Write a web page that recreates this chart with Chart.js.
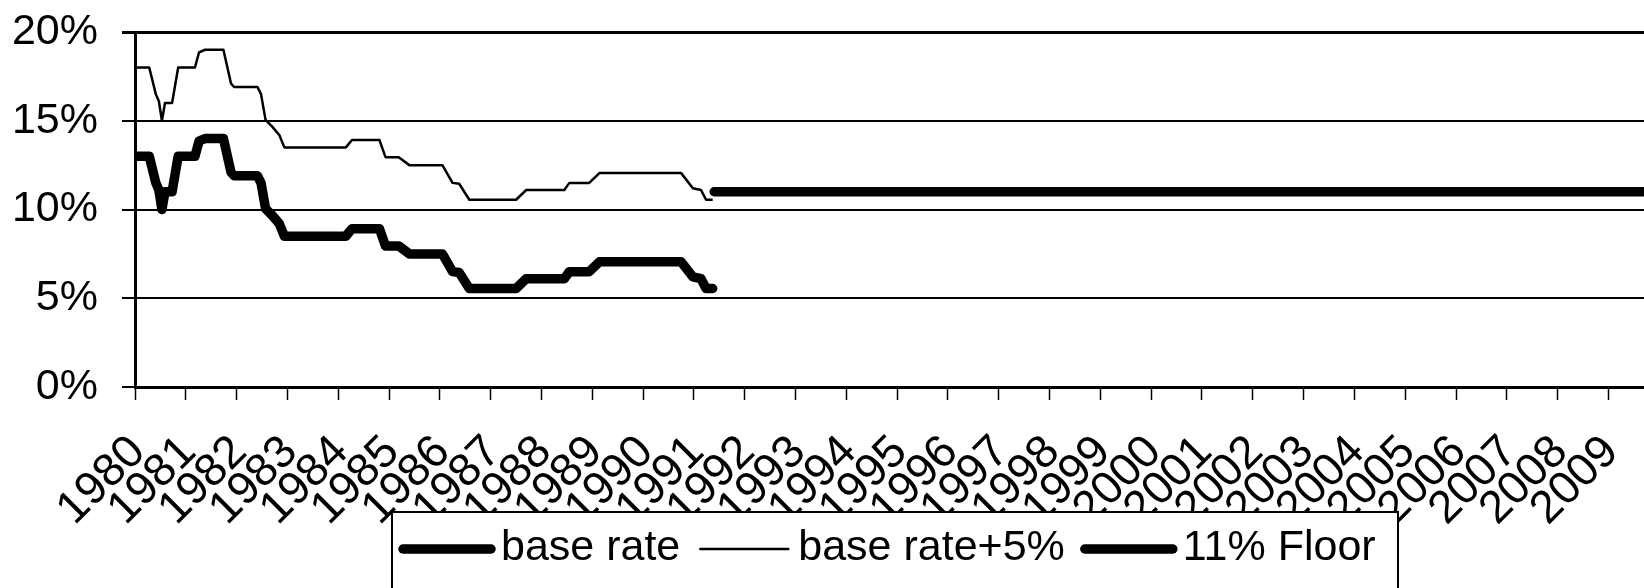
<!DOCTYPE html>
<html>
<head>
<meta charset="utf-8">
<script src="https://cdn.jsdelivr.net/npm/chart.js@4/dist/chart.umd.min.js"></script>
<style>
  html, body { margin: 0; padding: 0; background: #fff; }
  #wrap { width: 1644px; height: 588px; }
</style>
</head>
<body>
<div id="wrap"><canvas id="rates" width="1644" height="588"></canvas></div>
<script>
// vertices of the monthly rate lines (decimal years)
const rateDates = [
  1980.00, 1980.28, 1980.41, 1980.47, 1980.53, 1980.59, 1980.73, 1980.85,
  1981.18, 1981.26, 1981.38, 1981.74, 1981.89, 1981.95, 1982.41, 1982.48,
  1982.57, 1982.70, 1982.84, 1982.94, 1984.15, 1984.27, 1984.81, 1984.93,
  1985.19, 1985.40, 1986.05, 1986.25, 1986.38, 1986.58, 1987.50, 1987.70,
  1988.45, 1988.55, 1988.94, 1989.14, 1990.75, 1990.98, 1991.14, 1991.24,
  1991.37
];
const baseRate = [
  13.0, 13.0, 11.5, 11.1, 10.0, 11.0, 11.0, 13.0,
  13.0, 13.85, 14.0, 14.0, 12.1, 11.9, 11.9, 11.5,
  10.05, 9.67, 9.2, 8.5, 8.5, 8.92, 8.92, 7.95,
  7.95, 7.5, 7.5, 6.5, 6.45, 5.55, 5.55, 6.1,
  6.1, 6.5, 6.5, 7.05, 7.05, 6.2, 6.1, 5.55,
  5.55
];
const baseRatePlus5 = [
  18.0, 18.0, 16.5, 16.1, 15.0, 16.0, 16.0, 18.0,
  18.0, 18.85, 19.0, 19.0, 17.1, 16.9, 16.9, 16.5,
  15.05, 14.67, 14.2, 13.5, 13.5, 13.92, 13.92, 12.95,
  12.95, 12.5, 12.5, 11.5, 11.45, 10.55, 10.55, 11.1,
  11.1, 11.5, 11.5, 12.05, 12.05, 11.2, 11.1, 10.55,
  10.55
];
const floorDates = [1991.40, 2010.0];
const floorRate = [11, 11];

const yearLabels = [
  '1980', '1981', '1982', '1983', '1984', '1985', '1986', '1987', '1988', '1989',
  '1990', '1991', '1992', '1993', '1994', '1995', '1996', '1997', '1998', '1999',
  '2000', '2001', '2002', '2003', '2004', '2005', '2006', '2007', '2008', '2009'
];
const seriesNames = ['base rate', 'base rate+5%', '11% Floor'];

const FONT = "'Liberation Sans', Arial, sans-serif";

function points(xs, ys) {
  return xs.map((x, i) => ({ x: x, y: ys[i] }));
}

// legend drawn in a box like the original, sitting over the bottom of the labels
const boxLegend = {
  id: 'boxLegend',
  afterDraw(chart) {
    const ctx = chart.ctx;
    ctx.save();
    ctx.strokeStyle = '#000';
    ctx.lineWidth = 2;
    ctx.fillStyle = '#fff';
    ctx.fillRect(392, 512, 1006, 90);
    ctx.beginPath();
    ctx.moveTo(392, 600);
    ctx.lineTo(392, 512);
    ctx.lineTo(1398, 512);
    ctx.lineTo(1398, 600);
    ctx.stroke();

    ctx.font = '43px ' + FONT;
    ctx.textBaseline = 'alphabetic';
    ctx.fillStyle = '#000';
    let x = 403;
    chart.data.datasets.forEach(ds => {
      ctx.beginPath();
      ctx.lineCap = 'round';
      ctx.lineWidth = ds.borderWidth;
      ctx.strokeStyle = ds.borderColor;
      ctx.moveTo(x, 549);
      ctx.lineTo(x + 88, 549);
      ctx.stroke();
      x += 98;
      ctx.fillText(ds.label, x, 560);
      x += ctx.measureText(ds.label).width + 20;
    });
    ctx.restore();
  }
};

new Chart(document.getElementById('rates'), {
  type: 'line',
  data: {
    datasets: [
      {
        label: seriesNames[0],
        data: points(rateDates, baseRate),
        borderColor: '#000',
        borderWidth: 9.5,
        borderCapStyle: 'round',
        borderJoinStyle: 'round',
        pointRadius: 0,
        tension: 0
      },
      {
        label: seriesNames[1],
        data: points(rateDates, baseRatePlus5),
        borderColor: '#000',
        borderWidth: 2.5,
        borderJoinStyle: 'round',
        pointRadius: 0,
        tension: 0
      },
      {
        label: seriesNames[2],
        data: points(floorDates, floorRate),
        borderColor: '#000',
        borderWidth: 9.5,
        borderCapStyle: 'round',
        pointRadius: 0,
        tension: 0
      }
    ]
  },
  options: {
    responsive: false,
    animation: false,
    devicePixelRatio: 1,
    layout: { padding: { top: 32, right: 0, left: 0, bottom: 0 } },
    plugins: {
      legend: { display: false },
      tooltip: { enabled: false }
    },
    scales: {
      x: {
        type: 'linear',
        min: 1980,
        max: 2009.7,
        afterFit(scale) {
          scale.height = 201;
          scale.paddingLeft = 0;
          scale.paddingRight = 0;
        },
        ticks: {
          stepSize: 1,
          includeBounds: false,
          autoSkip: false,
          minRotation: 45,
          maxRotation: 45,
          padding: 43,
          labelOffset: 3,
          color: '#000',
          font: { family: FONT, size: 46, lineHeight: 0.1 },
          callback: v => yearLabels[v - 1980]
        },
        grid: {
          drawOnChartArea: false,
          drawTicks: true,
          tickLength: 13,
          tickColor: '#000',
          tickWidth: 1.5
        },
        border: { color: '#000', width: 3 }
      },
      y: {
        min: 0,
        max: 20,
        afterFit(scale) {
          scale.width = 135;
          scale.paddingTop = 0;
          scale.paddingBottom = 0;
        },
        ticks: {
          stepSize: 5,
          padding: 24,
          color: '#000',
          font: { family: FONT, size: 43 },
          callback: v => v + '%'
        },
        grid: {
          color: '#000',
          lineWidth: c => (c.tick && c.tick.value === 20 ? 3 : 2),
          tickLength: 13,
          tickColor: '#000'
        },
        border: { color: '#000', width: 3 }
      }
    }
  },
  plugins: [boxLegend]
});
</script>
</body>
</html>
